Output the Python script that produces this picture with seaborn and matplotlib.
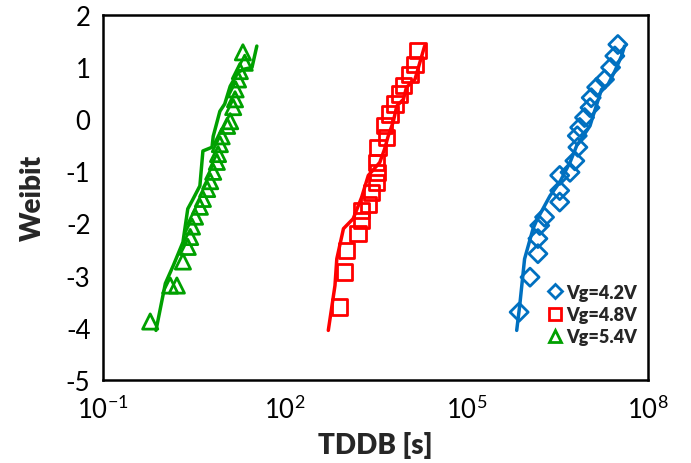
import numpy as np
import pandas as pd
import matplotlib
matplotlib.use('Agg')
import matplotlib.pyplot as plt
from matplotlib.lines import Line2D
import seaborn as sns

# measured points (log10 of TDDB, Weibit)
g_logt = [1.31, 1.34, 1.26, 1.23, 1.19, 1.18, 1.15, 1.10, 1.05, 0.96, 0.93, 0.90, 0.88,
          0.82, 0.77, 0.72, 0.65, 0.60, 0.52, 0.47, 0.44, 0.40, 0.32, 0.22, 0.11, -0.22]
g_w = [1.28, 1.08, 0.92, 0.76, 0.57, 0.38, 0.23, -0.04, -0.13, -0.33, -0.48, -0.67, -0.82,
       -1.01, -1.19, -1.34, -1.53, -1.68, -1.87, -2.06, -2.26, -2.45, -2.73, -3.19, -3.19, -3.88]
r_logt = [4.20, 4.15, 4.07, 3.96, 3.90, 3.82, 3.74, 3.65, 3.68, 3.54, 3.52, 3.53, 3.52,
          3.43, 3.38, 3.27, 3.27, 3.21, 3.02, 2.99, 2.91]
r_w = [1.31, 1.05, 0.86, 0.64, 0.48, 0.29, 0.10, -0.13, -0.35, -0.54, -0.83, -1.02, -1.21,
       -1.40, -1.63, -1.75, -1.94, -2.20, -2.52, -2.93, -3.60]
b_logt = [7.50, 7.45, 7.38, 7.28, 7.15, 7.06, 7.04, 6.95, 6.87, 6.83, 6.84, 6.79, 6.71,
          6.54, 6.54, 6.54, 6.29, 6.21, 6.18, 6.18, 6.05, 5.87]
b_w = [1.43, 1.21, 0.99, 0.76, 0.61, 0.41, 0.22, 0.03, -0.16, -0.32, -0.54, -0.80, -1.02,
       -1.08, -1.37, -1.59, -1.88, -2.04, -2.29, -2.58, -3.03, -3.70]

# simulated curves
g_line_logt = [-0.125, 0.03, 0.16, 0.32, 0.40, 0.47, 0.60, 0.65, 0.80, 0.82, 0.93, 1.01,
               1.10, 1.23, 1.34, 1.46, 1.54]
g_line_w = [-4.05, -3.15, -2.81, -2.36, -1.72, -1.57, -1.28, -0.61, -0.54, -0.33, 0.15, 0.29,
            0.63, 0.90, 0.96, 0.99, 1.40]
r_line_logt = [2.72, 2.83, 2.86, 2.97, 3.13, 3.27, 3.38, 3.57, 3.65, 3.71, 3.79, 3.85,
               3.96, 4.01, 4.15, 4.23, 4.31]
r_line_w = [-4.05, -3.19, -2.68, -2.10, -1.91, -1.50, -1.08, -0.83, -0.57, -0.32, -0.06, 0.25,
            0.38, 0.61, 0.76, 1.08, 1.40]
b_line_logt = [5.83, 5.88, 5.96, 6.10, 6.16, 6.38, 6.54, 6.71, 6.82, 7.04, 7.09, 7.17,
               7.23, 7.34, 7.45, 7.56, 7.61]
b_line_w = [-4.05, -3.57, -2.68, -2.10, -1.94, -1.47, -1.21, -0.83, -0.51, -0.13, 0.06, 0.35,
            0.57, 0.67, 0.92, 1.21, 1.40]

labels = ['Vg=4.2V', 'Vg=4.8V', 'Vg=5.4V']
colors = ['#0070C0', '#FF0000', '#00A000']
markers = ['D', 's', '^']
x_ticks = [0.1, 1e2, 1e5, 1e8]
x_tick_labels = ['$10^{-1}$', '$10^{2}$', '$10^{5}$', '$10^{8}$']

sns.set_style('white')
plt.rcParams['font.family'] = ['Lato', 'DejaVu Sans']
plt.rcParams['mathtext.default'] = 'regular'
plt.rcParams['axes.unicode_minus'] = False

fig = plt.figure(figsize=(6.91, 4.64), dpi=100)
ax = fig.add_axes([0.149, 0.179, 0.789, 0.787])

pts = [(b_logt, b_w), (r_logt, r_w), (g_logt, g_w)]
lines = [(b_line_logt, b_line_w), (r_line_logt, r_line_w), (g_line_logt, g_line_w)]

for (lx, ly), c in zip(lines, colors):
    sns.lineplot(x=10 ** np.array(lx), y=ly, sort=False, color=c, lw=2.5, ax=ax)
for (px, py), c, m in zip(pts, colors, markers):
    ax.scatter(10 ** np.array(px), py, marker=m, s=120 if m != 'D' else 85,
               facecolors='none', edgecolors=c, linewidths=2.0, zorder=3)

ax.set_xscale('log')
ax.set_xlim(0.1, 1e8)
ax.set_ylim(-5, 2)
ax.set_xticks(x_ticks)
ax.set_xticklabels(x_tick_labels)
ax.minorticks_off()
ax.set_yticks(range(-5, 3))
ax.tick_params(direction='in', length=6, width=1.5, labelsize=18.5, colors='black', pad=9)
ax.tick_params(axis='x', length=0, pad=11)
for s in ax.spines.values():
    s.set_color('black')
    s.set_linewidth(1.8)

ax.set_xlabel('TDDB [s]', fontsize=20, fontweight='heavy', labelpad=6)
ax.set_ylabel('Weibit', fontsize=20, fontweight='heavy', labelpad=14)

handles = [Line2D([], [], ls='none', marker=m, markersize=9 if m != 'D' else 7.5,
                  markerfacecolor='none', markeredgecolor=c, markeredgewidth=2.0)
           for m, c in zip(markers, colors)]
leg = ax.legend(handles, labels, loc='lower right', frameon=False, handletextpad=0.15,
                handlelength=1.0, labelspacing=0.3, bbox_to_anchor=(1.01, 0.05),
                prop={'weight': 'heavy', 'size': 13})

fig.savefig('out.png', dpi=100)
